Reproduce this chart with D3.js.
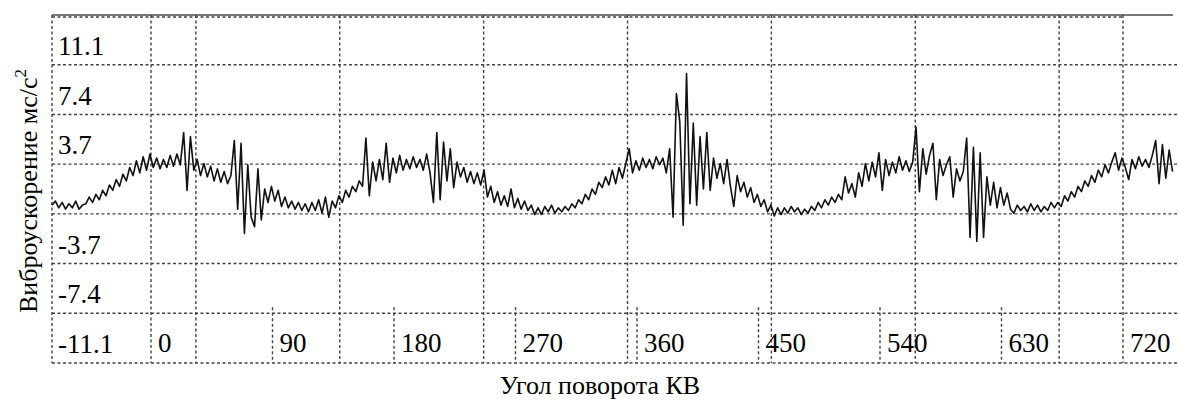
<!DOCTYPE html>
<html>
<head>
<meta charset="utf-8">
<script src="https://cdn.jsdelivr.net/npm/d3@7"></script>
<style>
    svg text { font-family: "Liberation Serif"; }
</style>
</head>
<body style="margin:0">
<svg id="chart" width="1178" height="401" font-family="Liberation Serif"></svg>
<script>
// crank angle axis (degrees)
const xTicks = [0, 90, 180, 270, 360, 450, 540, 630, 720];
// vertical axis labels, m/s^2 (one label per grid row)
const yTicks = [11.1, 7.4, 3.7, 0, -3.7, -7.4, -11.1];
const yTickLabels = ["11.1", "7.4", "3.7", "", "-3.7", "-7.4", "-11.1"];
// oscilloscope screen divisions
const gridDivs = [0, 1, 2, 3, 4, 5, 6, 7];

// sampled signal: first sample angle and step, then values (m/s^2)
const angleStart = -73.3;
const angleStep = 2.5;
const accel = [
    -1.2, -0.9, -1.4, -1.0, -1.5, -1.1, -1.4, -0.9, -1.5, -1.2,
    -1.1, -0.6, -1.0, -0.4, -0.8, -0.1, -0.5, 0.3, -0.1, 0.7,
    0.2, 1.1, 0.6, 1.6, 1.0, 2.1, 1.2, 2.4, 1.4, 2.6,
    1.6, 2.3, 1.5, 2.2, 1.6, 2.5, 1.7, 2.6, 1.8, 4.2,
    -0.1, 3.9, 1.4, 2.2, 1.0, 1.9, 0.9, 1.7, 0.6, 1.5,
    0.5, 1.3, 0.4, 1.0, 3.6, -1.5, 3.4, -3.3, 1.8, -2.1,
    -2.8, 1.5, -2.3, 0.0, -1.0, 0.2, -0.9, -0.1, -1.3, -0.6,
    -1.4, -0.9, -1.5, -1.0, -1.6, -1.1, -1.7, -1.0, -1.6, -0.8,
    -1.8, -0.6, -2.1, -0.9, -1.4, -0.5, -1.0, -0.1, -0.6, 0.2,
    -0.2, 0.6, 0.2, 3.8, -0.5, 2.0, 0.6, 2.2, 0.7, 3.4,
    0.5, 2.3, 1.2, 2.5, 1.4, 2.2, 1.5, 2.4, 1.6, 2.2,
    1.4, 2.6, 1.2, -1.0, 4.2, -0.8, 3.5, 0.6, 3.0, 0.1,
    2.0, 0.9, 1.6, 0.5, 1.3, 0.4, 1.2, 0.3, 1.4, -0.6,
    0.2, -1.0, -0.2, -1.2, -0.5, -1.3, 0.0, -1.4, -0.7, -1.5,
    -0.9, -1.6, -1.2, -1.9, -1.4, -1.9, -1.3, -1.7, -1.2, -1.8,
    -1.4, -1.7, -1.3, -1.6, -1.1, -1.4, -0.8, -1.1, -0.4, -0.8,
    0.0, -0.4, 0.5, 0.1, 0.9, 0.3, 1.4, 0.4, 1.6, 0.8,
    1.9, 3.0, 1.2, 2.1, 1.4, 2.3, 1.6, 2.2, 1.5, 2.4,
    1.8, 2.3, 1.2, 3.0, -2.1, 7.1, 5.0, -2.7, 8.6, -1.1,
    4.9, -1.2, 3.9, 0.0, 4.2, -0.1, 2.3, 0.8, 1.9, 0.4,
    2.2, 0.2, -1.3, 1.0, -0.2, 0.5, -0.6, 0.1, -1.0, -0.4,
    -1.3, -0.8, -1.7, -1.2, -2.0, -1.4, -1.9, -1.4, -1.8, -1.3,
    -1.7, -1.4, -1.9, -1.5, -1.8, -1.3, -1.6, -1.0, -1.4, -0.8,
    -1.2, -0.6, -1.0, -0.4, -0.8, 0.9, -0.3, 0.4, -0.6, 1.2,
    0.2, 1.9, 0.6, 2.0, 0.9, 2.7, -0.1, 2.2, 1.0, 2.0,
    1.2, 2.4, 1.4, 2.1, 1.3, 2.0, 4.6, -0.2, 3.0, 1.1,
    2.5, 3.4, -0.8, 2.2, 1.0, 1.8, 2.4, -0.6, 1.5, 0.6,
    1.3, 3.8, -3.6, 3.1, -3.9, 2.7, -3.6, 0.9, -1.2, 0.5,
    -1.4, 0.1, -1.2, -0.3, -1.5, -1.8, -1.2, -1.6, -1.3, -1.7,
    -1.1, -1.6, -1.2, -1.7, -1.3, -1.6, -1.0, -1.4, -1.0, -1.3,
    -0.5, -0.9, -0.2, -0.6, 0.2, -0.2, 0.6, 0.2, 1.0, 0.5,
    1.4, 0.9, 1.8, 1.2, 2.0, 2.7, 1.4, 2.3, 1.6, 0.7,
    2.2, 1.5, 2.4, 1.7, 2.2, 1.6, 2.5, 3.6, 0.4, 3.3,
    0.8, 2.9, 1.3
];

const plot = { left: 52, top: 15, bottom: 363, right: 1178 };

const svg = d3.select("#chart");

const x = d3.scaleLinear().domain([0, 720]).range([151, 1123]);
const y = d3.scaleLinear().domain([-12.95, 12.95]).range([plot.bottom, plot.top]);
const divX = d3.scaleLinear().domain([0, 8]).range([plot.left, 1203]);

const halfRow = (yTicks[0] - yTicks[1]) / 2;
const rowEdges = yTicks.map(d => d + halfRow).concat([yTicks[yTicks.length - 1] - halfRow]);

function gridLine(sel) {
    return sel.attr("stroke", "#444")
        .attr("stroke-width", 1.4)
        .attr("stroke-dasharray", "3 2.5");
}

function serifText(sel, size) {
    return sel.attr("font-family", "Liberation Serif")
        .style("font-family", '"Liberation Serif"')
        .attr("font-size", size)
        .attr("fill", "#000");
}

// top border
svg.append("line")
    .attr("stroke", "#777").attr("stroke-width", 2)
    .attr("x1", plot.left).attr("x2", 1173)
    .attr("y1", plot.top).attr("y2", plot.top);

// horizontal grid
svg.selectAll(".hgrid").data(rowEdges).enter()
    .append("line")
    .call(gridLine)
    .attr("x1", plot.left)
    .attr("x2", (d, i) => i === 0 ? x(720) : plot.right)
    .attr("y1", (d, i) => i === 0 ? y(d) + 2 : y(d))
    .attr("y2", (d, i) => i === 0 ? y(d) + 2 : y(d));

// vertical screen divisions
svg.selectAll(".vgrid").data(gridDivs).enter()
    .append("line")
    .call(gridLine)
    .attr("x1", d => divX(d)).attr("x2", d => divX(d))
    .attr("y1", plot.top).attr("y2", plot.bottom);

// angle ticks: 0 and 720 full height, the rest only in the bottom row
svg.selectAll(".xtick").data(xTicks).enter()
    .append("line")
    .call(gridLine)
    .attr("x1", d => x(d)).attr("x2", d => x(d))
    .attr("y1", d => (d === 0 || d === 720) ? plot.top : y(rowEdges[6]) - 6)
    .attr("y2", plot.bottom);

svg.selectAll(".xlabel").data(xTicks).enter()
    .append("text")
    .call(serifText, 27)
    .attr("x", d => x(d) + 7)
    .attr("y", plot.bottom - 11)
    .text(d => d);

svg.selectAll(".ylabel").data(yTicks).enter()
    .append("text")
    .call(serifText, 27)
    .attr("x", plot.left + 6)
    .attr("y", d => y(d) + 15)
    .text((d, i) => yTickLabels[i]);

// signal
const line = d3.line()
    .x((d, i) => x(angleStart + i * angleStep))
    .y(d => y(d));

svg.append("path")
    .datum(accel)
    .attr("fill", "none")
    .attr("stroke", "#111")
    .attr("stroke-width", 1.6)
    .attr("stroke-linejoin", "round")
    .attr("d", line);

// axis titles
svg.append("text")
    .call(serifText, 26)
    .attr("x", 600)
    .attr("y", 394)
    .attr("text-anchor", "middle")
    .text("Угол поворота КВ");

const yTitle = svg.append("text")
    .call(serifText, 26)
    .attr("transform", "translate(37,191) rotate(-90)")
    .attr("text-anchor", "middle");
yTitle.append("tspan").text("Виброускорение мс/с");
yTitle.append("tspan").attr("font-size", 17).attr("dy", -11).text("2");

// force text layout once everything is in place
svg.selectAll("text").each(function() { this.getComputedTextLength(); });
</script>
</body>
</html>
